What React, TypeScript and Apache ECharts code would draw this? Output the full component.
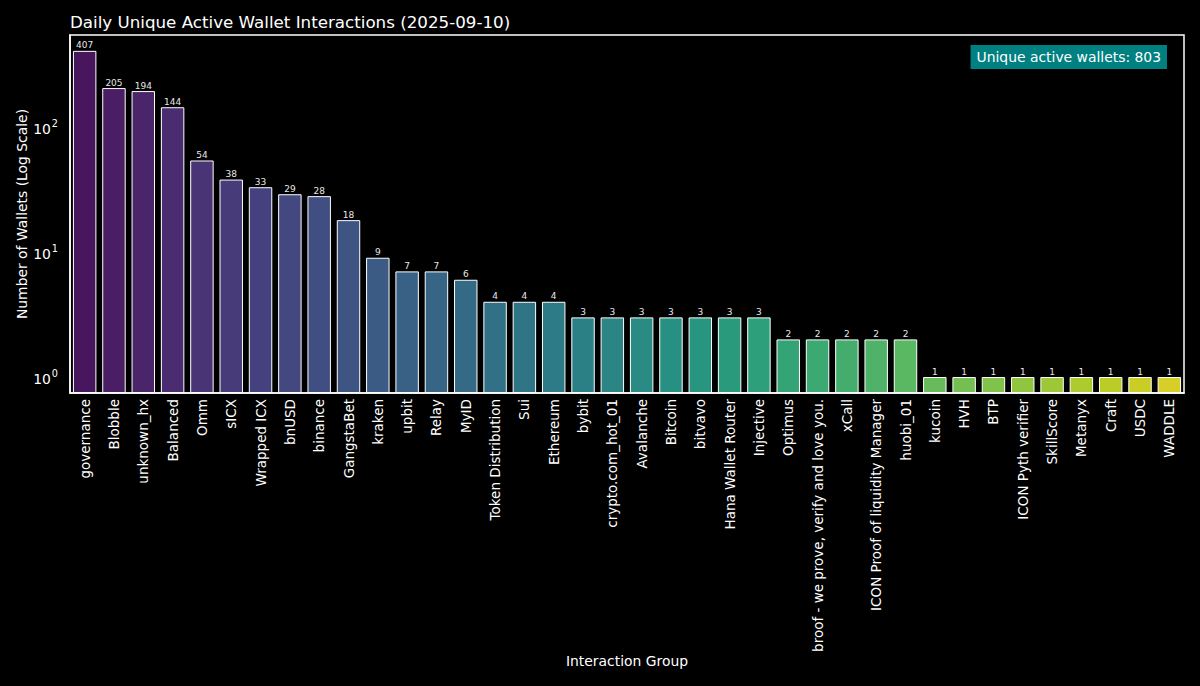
import React, { useEffect, useRef } from "react";
import * as echarts from "echarts";

const categories = [
  "governance", "Blobble", "unknown_hx", "Balanced", "Omm", "sICX", "Wrapped ICX", "bnUSD",
  "binance", "GangstaBet", "kraken", "upbit", "Relay", "MyID", "Token Distribution", "Sui",
  "Ethereum", "bybit", "crypto.com_hot_01", "Avalanche", "Bitcoin", "bitvavo", "Hana Wallet Router",
  "Injective", "Optimus", "broof - we prove, verify and love you.", "xCall",
  "ICON Proof of liquidity Manager", "huobi_01", "kucoin", "HVH", "BTP", "ICON Pyth verifier",
  "SkillScore", "Metanyx", "Craft", "USDC", "WADDLE",
];

const wallets = [
  407, 205, 194, 144, 54, 38, 33, 29, 28, 18, 9, 7, 7, 6, 4, 4, 4, 3, 3, 3, 3, 3, 3, 3,
  2, 2, 2, 2, 2, 1, 1, 1, 1, 1, 1, 1, 1, 1,
];

const titleText = "Daily Unique Active Wallet Interactions (2025-09-10)";
const uniqueWallets = 803;

const viridisStops = [
  "#440154", "#48186a", "#472d7b", "#424086", "#3b528b", "#33638d", "#2c728e", "#26828e",
  "#21918c", "#1fa088", "#28ae80", "#3fbc73", "#5ec962", "#84d44b", "#addc30", "#d8e219", "#fde725",
];

function hexToRgb(h: string) {
  const n = parseInt(h.slice(1), 16);
  return [(n >> 16) & 255, (n >> 8) & 255, n & 255];
}

function viridis(t: number) {
  const pos = t * (viridisStops.length - 1);
  const i = Math.min(Math.floor(pos), viridisStops.length - 2);
  const f = pos - i;
  const a = hexToRgb(viridisStops[i]);
  const b = hexToRgb(viridisStops[i + 1]);
  const c = a.map((v, k) => v + (b[k] - v) * f).map((v) => Math.round(0.85 * v + 12.8));
  return `rgb(${c[0]},${c[1]},${c[2]})`;
}

export default function App() {
  const ref = useRef<HTMLDivElement>(null);
  useEffect(() => {
    if (!ref.current) return;
    const chart = echarts.init(ref.current, null, { renderer: "svg" });
    const n = categories.length;
    const font = "DejaVu Sans";
    chart.setOption({
      animation: false,
      backgroundColor: "#000000",
      textStyle: { fontFamily: font },
      title: [
        {
          text: titleText,
          left: 70,
          top: 13,
          padding: 0,
          textStyle: { color: "#ffffff", fontSize: 16.7, fontWeight: "normal", fontFamily: font },
        },
        {
          text: `Unique active wallets: ${uniqueWallets}`,
          right: 33,
          top: 45,
          padding: [5, 6, 5, 6],
          backgroundColor: "#008080",
          textStyle: { color: "#ffffff", fontSize: 13.9, fontWeight: "normal", fontFamily: font },
        },
      ],
      grid: {
        left: 70,
        right: 16,
        top: 35,
        bottom: 293,
        show: true,
        borderColor: "#ffffff",
        borderWidth: 1.5,
        backgroundColor: "transparent",
      },
      xAxis: {
        type: "category",
        data: categories,
        name: "Interaction Group",
        nameLocation: "middle",
        nameGap: 261,
        nameMoveOverlap: false,
        nameTextStyle: { color: "#ffffff", fontSize: 13.9, fontFamily: font },
        axisLine: { show: true, lineStyle: { color: "#ffffff", width: 1.5 } },
        axisTick: { show: false },
        axisLabel: { rotate: 90, interval: 0, color: "#ffffff", fontSize: 13.5, margin: 6, fontFamily: font },
        splitLine: { show: false },
      },
      yAxis: {
        type: "log",
        logBase: 10,
        min: 0.745,
        max: 545,
        startValue: 0.745,
        name: "Number of Wallets (Log Scale)",
        nameLocation: "middle",
        nameGap: 41,
        nameMoveOverlap: false,
        nameTextStyle: { color: "#ffffff", fontSize: 13.9, fontFamily: font },
        axisLine: { show: true, lineStyle: { color: "#ffffff", width: 1.5 } },
        axisTick: { show: false },
        splitLine: { show: false },
        axisLabel: {
          color: "#ffffff",
          margin: 12,
          fontFamily: font,
          formatter: (v: number) => {
            const l = Math.log10(v);
            const e = Math.round(l);
            if (Math.abs(l - e) > 1e-6) return "";
            return `{b|10}{s|${e}}`;
          },
          rich: {
            b: { fontSize: 13.9, color: "#ffffff", fontFamily: font, lineHeight: 18, verticalAlign: "bottom" },
            s: { fontSize: 9.7, color: "#ffffff", fontFamily: font, lineHeight: 18, verticalAlign: "top", padding: [0, 0, 0, 1] },
          },
        },
      },
      series: [
        {
          type: "bar",
          barWidth: "80%",
          data: wallets.map((v, i) => ({
            value: v,
            itemStyle: {
              color: viridis((i + 1) / (n + 1)),
              borderColor: "#ffffff",
              borderWidth: 1,
            },
          })),
          label: {
            show: true,
            position: "top",
            distance: 1,
            color: "#e8e8e8",
            fontSize: 9,
            fontFamily: font,
          },
        },
      ],
    });
    return () => chart.dispose();
  }, []);
  return (
    <div
      ref={ref}
      style={{ position: "fixed", left: 0, top: 0, width: 1200, height: 686, background: "#000" }}
    />
  );
}
